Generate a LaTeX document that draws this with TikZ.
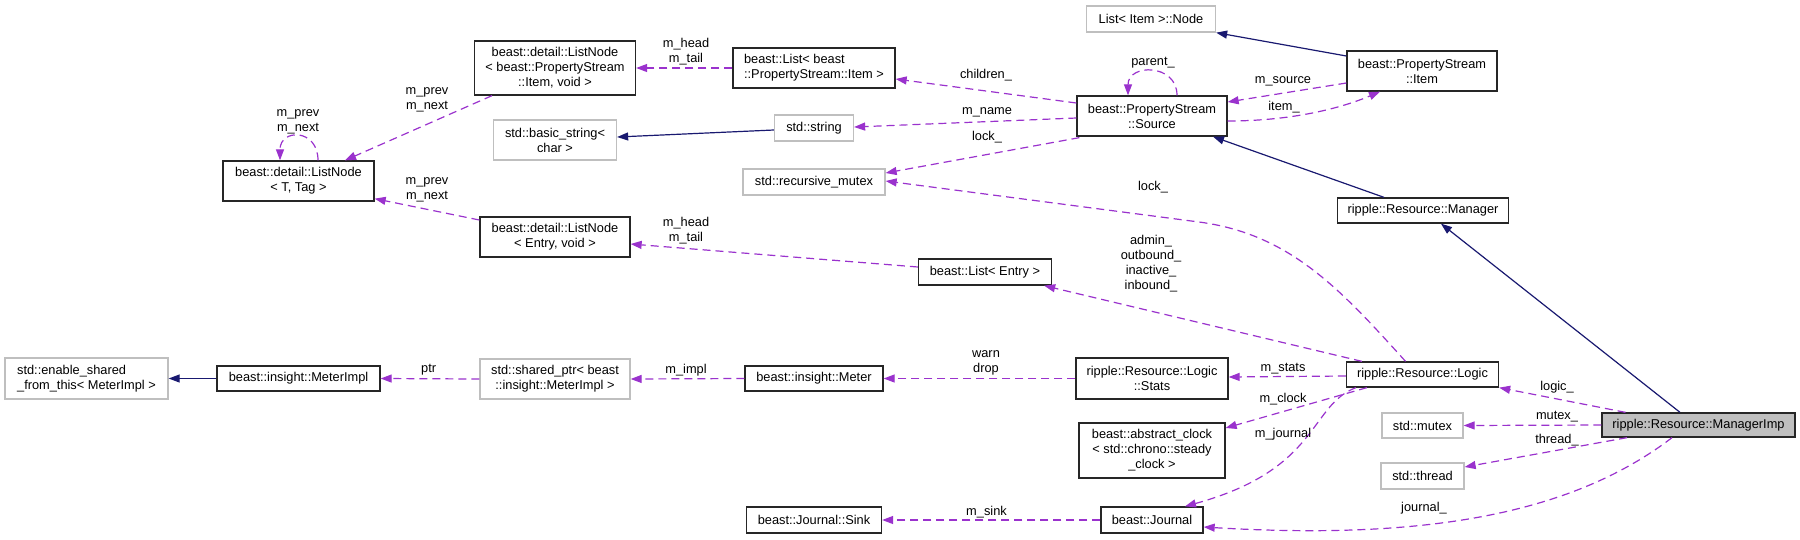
\documentclass[tikz,border=0pt]{standalone}
\usepackage{fontspec}
\setmainfont{Liberation Sans}
\usetikzlibrary{arrows.meta, calc}

\definecolor{edgepurple}{HTML}{9A32CD}
\definecolor{edgenavy}{HTML}{191970}
\definecolor{boxgrey}{HTML}{BFBFBF}

\begin{document}
\begin{tikzpicture}[
    x=1pt, y=-1pt,
    every node/.style={font=\fontsize{12.8}{15}\selectfont, inner sep=0pt},
    cls/.style={draw=black!85, line width=1.3pt, rectangle, align=center},
    ext/.style={draw=boxgrey, line width=1.3pt, rectangle, align=center},
    member/.style={-{Triangle[length=11pt,width=8pt]}, edgepurple, line width=1.2pt, dash pattern=on 8pt off 5pt},
    inherit/.style={-{Triangle[length=11pt,width=8pt]}, edgenavy, line width=1.2pt},
    lbl/.style={align=center}
]
\useasboundingbox (0,0) rectangle (1800,539);

% Classes, left to right
\node[ext, minimum width=163pt, minimum height=41pt, align=left] (enableShared) at (86.5,378.5) {std::enable\_shared\\\_from\_this< MeterImpl >};
\node[cls, minimum width=151pt, minimum height=40pt] (lnT) at (298.5,181) {beast::detail::ListNode\\< T, Tag >};
\node[cls, minimum width=163pt, minimum height=25pt] (meterImpl) at (298.5,378.5) {beast::insight::MeterImpl};
\node[cls, minimum width=161pt, minimum height=54pt] (lnItem) at (555,68) {beast::detail::ListNode\\< beast::PropertyStream\\::Item, void >};
\node[ext, minimum width=123pt, minimum height=40pt] (basicStr) at (555,140) {std::basic\_string<\\char >};
\node[cls, minimum width=150pt, minimum height=40pt] (lnEntry) at (555,237) {beast::detail::ListNode\\< Entry, void >};
\node[ext, minimum width=150pt, minimum height=40pt] (sharedPtr) at (555,379) {std::shared\_ptr< beast\\::insight::MeterImpl >};
\node[cls, minimum width=162pt, minimum height=40pt, align=left] (listItem) at (814,68) {beast::List< beast\\::PropertyStream::Item >};
\node[ext, minimum width=79pt, minimum height=26pt] (str) at (814,128) {std::string};
\node[ext, minimum width=142pt, minimum height=26pt] (rmutex) at (814,182) {std::recursive\_mutex};
\node[cls, minimum width=138pt, minimum height=25pt] (meter) at (814,378.5) {beast::insight::Meter};
\node[cls, minimum width=135pt, minimum height=26pt] (sink) at (814,520) {beast::Journal::Sink};
\node[cls, minimum width=133pt, minimum height=26pt] (listEntry) at (985,272) {beast::List< Entry >};
\node[ext, minimum width=129pt, minimum height=26pt] (itemNode) at (1151,19) {List< Item >::Node};
\node[cls, minimum width=150pt, minimum height=40pt] (source) at (1152,116) {beast::PropertyStream\\::Source};
\node[cls, minimum width=152pt, minimum height=41pt] (stats) at (1152,378.5) {ripple::Resource::Logic\\::Stats};
\node[cls, minimum width=146pt, minimum height=55pt] (clock) at (1152,450.5) {beast::abstract\_clock\\< std::chrono::steady\\\_clock >};
\node[cls, minimum width=102pt, minimum height=26pt] (journal) at (1152,520) {beast::Journal};
\node[cls, minimum width=150pt, minimum height=40pt] (item) at (1422,71) {beast::PropertyStream\\::Item};
\node[cls, minimum width=171pt, minimum height=25pt] (manager) at (1423,210.5) {ripple::Resource::Manager};
\node[cls, minimum width=152pt, minimum height=25pt] (logic) at (1422.5,374.5) {ripple::Resource::Logic};
\node[ext, minimum width=81pt, minimum height=25pt] (mutex) at (1422.5,425.5) {std::mutex};
\node[ext, minimum width=83pt, minimum height=26pt] (thread) at (1422.5,476) {std::thread};
\node[cls, fill=boxgrey, minimum width=193pt, minimum height=24pt] (managerImp) at (1698.5,425) {ripple::Resource::ManagerImp};

% Inheritance
\draw[inherit] (meterImpl.west) -- (enableShared.east);
\draw[inherit] ($(str.west)+(0,2)$) -- ($(basicStr.east)+(0,-3)$);
\draw[inherit] ($(item.west)+(0,-15)$) -- (itemNode.south east);
\draw[inherit] ($(manager.north)+(-39,0)$) -- ($(source.south)+(61,0)$);
\draw[inherit] ($(managerImp.north)+(-18.5,0)$) -- ($(manager.south)+(18,0)$);

% Members
\draw[member] ($(lnT.north)+(19.5,0)$) .. controls +(0,-32) and +(0,-32) .. ($(lnT.north)+(-18.5,0)$);
\draw[member] ($(lnItem.south)+(-63,0)$) -- ($(lnT.north)+(46.5,0)$);
\draw[member] ($(lnEntry.west)+(0,-17)$) -- ($(lnT.south east)+(0,-3)$);
\draw[member] (listItem.west) -- (lnItem.east);
\draw[member] ($(source.west)+(0,-13)$) -- ($(listItem.east)+(0,11)$);
\draw[member] ($(source.west)+(0,2)$) -- ($(str.east)+(0,-1)$);
\draw[member] ($(source.south west)+(3,1)$) -- ($(rmutex.east)+(0,-9)$);
\draw[member] ($(logic.north)+(-17,0)$) .. controls +(-65,-72) and +(91,12) .. (1199,222) -- ($(rmutex.east)+(0,-1)$);
\draw[member] ($(source.north)+(25,0)$) .. controls +(0,-32) and +(0,-32) .. ($(source.north)+(-24,0)$);
\draw[member] ($(item.west)+(0,12)$) -- ($(source.east)+(0,-14)$);
\draw[member] ($(source.east)+(0,5)$) .. controls +(63,0) and +(-40,17) .. ($(item.south)+(-42,0)$);
\draw[member] ($(listEntry.west)+(0,-5)$) -- ($(lnEntry.east)+(0,7)$);
\draw[member] ($(logic.north west)+(16,0)$) -- ($(listEntry.south east)+(-8,0)$);
\draw[member] (sharedPtr.west) -- (meterImpl.east);
\draw[member] (meter.west) -- (sharedPtr.east);
\draw[member] (stats.west) -- (meter.east);
\draw[member] ($(logic.west)+(0,1.5)$) -- ($(stats.east)+(0,-1.5)$);
\draw[member] ($(logic.south west)+(21,0)$) -- ($(clock.east)+(0,-22.5)$);
\draw[member] ($(logic.south west)+(10,0)$) .. controls +(-47,18) and +(135,-37) .. ($(journal.north)+(33,0)$);
\draw[member] (journal.west) -- (sink.east);
\draw[member] ($(managerImp.north)+(-73,0)$) -- (logic.south east);
\draw[member] (managerImp.west) -- (mutex.east);
\draw[member] ($(managerImp.south)+(-71.5,0)$) -- ($(thread.east)+(0,-9)$);
\draw[member] ($(managerImp.south)+(-26.5,0)$) .. controls +(-102,78) and +(217,13) .. ($(journal.east)+(0,7)$);

% Member labels
\node[lbl] (lPrevT) at (298,122) {m\_prev\\m\_next};
\node[lbl] (lPrevItem) at (427,100) {m\_prev\\m\_next};
\node[lbl] (lPrevEntry) at (427,190) {m\_prev\\m\_next};
\node[lbl] (lHeadItem) at (686,52) {m\_head\\m\_tail};
\node[lbl] (lHeadEntry) at (686,231) {m\_head\\m\_tail};
\node[lbl] (lChildren) at (986,75) {children\_};
\node[lbl] (lName) at (987,112) {m\_name};
\node[lbl] (lLockSrc) at (987,137) {lock\_};
\node[lbl] (lLockLogic) at (1153,187) {lock\_};
\node[lbl] (lParent) at (1153,63) {parent\_};
\node[lbl] (lSource) at (1283,81) {m\_source};
\node[lbl] (lItem) at (1284,107) {item\_};
\node[lbl] (lEntries) at (1151,264) {admin\_\\outbound\_\\inactive\_\\inbound\_};
\node[lbl] (lPtr) at (428.6,370) {ptr};
\node[lbl] (lImpl) at (686,370) {m\_impl};
\node[lbl] (lWarn) at (986,363) {warn\\drop};
\node[lbl] (lStats) at (1283,369) {m\_stats};
\node[lbl] (lClock) at (1283,399) {m\_clock};
\node[lbl] (lJournal) at (1283,434) {m\_journal};
\node[lbl] (lSink) at (986.5,512) {m\_sink};
\node[lbl] (lLogic) at (1557,387) {logic\_};
\node[lbl] (lMutex) at (1557,417) {mutex\_};
\node[lbl] (lThread) at (1557,440) {thread\_};
\node[lbl] (lJournalImp) at (1424,508) {journal\_};
\end{tikzpicture}
\end{document}
